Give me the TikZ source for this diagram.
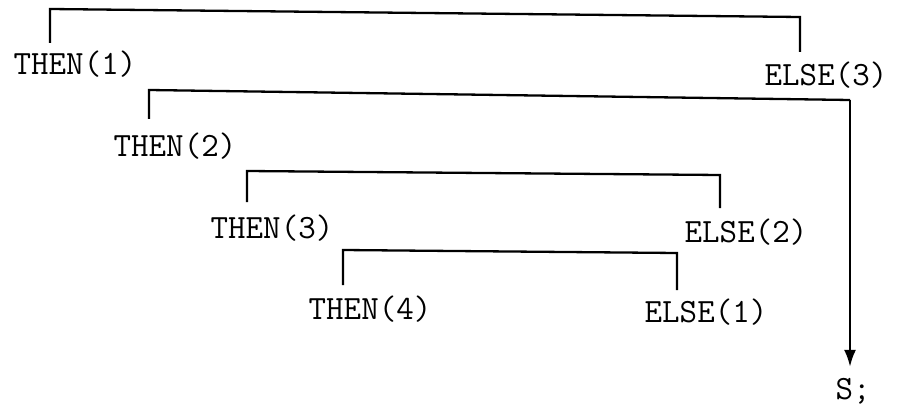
\documentclass[tikz,border=0pt]{standalone}
\usetikzlibrary{arrows.meta}
\begin{document}
\begin{tikzpicture}[x=1pt,y=-1pt,
  lbl/.style={inner sep=0pt,font=\fontsize{34}{34}\selectfont\ttfamily},
  bracket/.style={line width=2.3pt,line join=miter},
  flow/.style={line width=2.3pt,-{Latex[length=17pt,width=12pt]}}]
\useasboundingbox (0,0) rectangle (901,406);

% keywords of the nested conditional
\node[lbl] (then1) at (75,64)  {THEN(1)};
\node[lbl] (else3) at (826,75) {ELSE(3)};
\node[lbl] (then2) at (175,146) {THEN(2)};
\node[lbl] (then3) at (272,228) {THEN(3)};
\node[lbl] (else2) at (746,232) {ELSE(2)};
\node[lbl] (then4) at (370,309) {THEN(4)};
\node[lbl] (else1) at (706,312) {ELSE(1)};
\node[lbl] (stmt)  at (853,391) {S;};

% bracket corners
\coordinate (b1a) at (50,43);   \coordinate (b1b) at (50,9);
\coordinate (b1c) at (800,17);  \coordinate (b1d) at (800,52);
\coordinate (b2a) at (149,119); \coordinate (b2b) at (149,90);
\coordinate (b2c) at (850,100);
\coordinate (b3a) at (247,202); \coordinate (b3b) at (247,171);
\coordinate (b3c) at (720,175); \coordinate (b3d) at (720,208);
\coordinate (b4a) at (343,285); \coordinate (b4b) at (343,250);
\coordinate (b4c) at (677,253); \coordinate (b4d) at (677,290);

% THEN/ELSE pairings
\draw[bracket] (b1a) -- (b1b) -- (b1c) -- (b1d);
\draw[bracket] (b3a) -- (b3b) -- (b3c) -- (b3d);
\draw[bracket] (b4a) -- (b4b) -- (b4c) -- (b4d);
% the unmatched THEN(2) falls through to S;
\draw[bracket] (b2a) -- (b2b) -- (b2c);
\draw[flow,shorten >=11pt] (b2c) -- (b2c |- stmt.north);
\end{tikzpicture}
\end{document}
